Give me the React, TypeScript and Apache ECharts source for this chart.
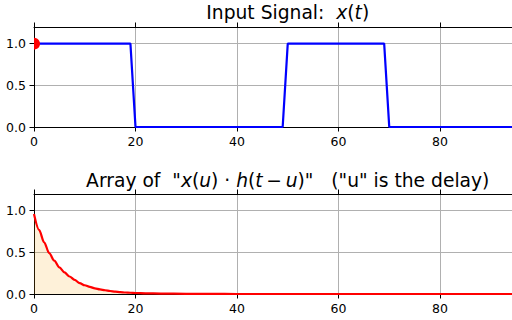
import React, { useEffect, useRef } from "react";
import * as echarts from "echarts";

// Input signal x(t) (corner points of the piecewise-linear trace)
const signalT = [0, 19, 20, 49, 50, 69, 70, 100];
const signalX = [1, 1, 0, 0, 1, 1, 0, 0];
// Marker on the input signal
const markerT = [0];
const markerX = [1];
// Array of x(u)·h(t−u) against delay u
const delayU = [0, 1, 2, 3, 4, 5, 6, 7, 8, 9, 10, 11, 12, 13, 14, 15, 16, 17, 18, 19, 20, 22, 25, 30, 35, 40, 100];
const productVals = [0.96, 0.77, 0.62, 0.49, 0.4, 0.32, 0.26, 0.21, 0.17, 0.13, 0.105, 0.085, 0.068, 0.055, 0.045, 0.036, 0.029, 0.023, 0.018, 0.015, 0.012, 0.008, 0.005, 0.002, 0.001, 0, 0];
// Axis ticks
const xRange = [0, 100];
const xTickLabels = [0, 20, 40, 60, 80];
const yTicks = [0, 0.5, 1.0];

const FONT = "DejaVu Sans";

const grids = [
  { left: 34, top: 27, width: 507.5, height: 100, outerBoundsMode: "none", containLabel: false },
  { left: 34, top: 194, width: 507.5, height: 100, outerBoundsMode: "none", containLabel: false },
];

function bottomX(gridIndex: number) {
  return {
    type: "value",
    gridIndex,
    position: "bottom",
    min: xRange[0],
    max: xRange[1],
    interval: 20,
    axisLine: { show: true, onZero: false, lineStyle: { color: "#000", width: 1 } },
    axisTick: { show: true, inside: false, length: 4.5, lineStyle: { color: "#000", width: 1 } },
    axisLabel: { show: true, color: "#000", fontSize: 12.5, fontFamily: FONT, margin: 8, customValues: xTickLabels },
    splitLine: { show: true, lineStyle: { color: "#b0b0b0", width: 1 } },
  };
}
function topX(gridIndex: number) {
  return {
    type: "value",
    gridIndex,
    position: "top",
    min: xRange[0],
    max: xRange[1],
    interval: 20,
    axisLine: { show: true, onZero: false, lineStyle: { color: "#000", width: 1 } },
    axisTick: { show: true, inside: false, length: 4.5, lineStyle: { color: "#000", width: 1 } },
    axisLabel: { show: false },
    splitLine: { show: false },
  };
}
function leftY(gridIndex: number) {
  return {
    type: "value",
    gridIndex,
    min: 0,
    max: 1.2,
    interval: 0.5,
    axisLine: { show: true, onZero: false, lineStyle: { color: "#000", width: 1 } },
    axisTick: { show: true, inside: false, length: 4.5, lineStyle: { color: "#000", width: 1 }, customValues: yTicks },
    axisLabel: {
      show: true,
      color: "#000",
      fontSize: 12.5,
      fontFamily: FONT,
      margin: 8,
      customValues: yTicks,
      formatter: (v: number) => v.toFixed(1),
    },
    splitLine: { show: true, lineStyle: { color: "#b0b0b0", width: 1 } },
  };
}

export default function App() {
  const ref = useRef<HTMLDivElement>(null);
  useEffect(() => {
    if (!ref.current) return;
    const chart = echarts.init(ref.current, undefined, { renderer: "svg" });
    const FS = 18.7;
    const nStyle = { fontFamily: FONT, fontSize: FS, fill: "#000", color: "#000" };
    const iStyle = { fontFamily: FONT, fontSize: FS, fontStyle: "italic", fill: "#000", color: "#000" };
    chart.setOption({
      animation: false,
      backgroundColor: "#fff",
      grid: grids,
      xAxis: [bottomX(0), topX(0), bottomX(1), topX(1)],
      yAxis: [leftY(0), leftY(1)],
      graphic: [
        {
          type: "text",
          x: 287.75,
          y: 12,
          style: {
            text: "{n|Input Signal:  }{i|x}{n|(}{i|t}{n|)}",
            rich: { n: nStyle, i: iStyle },
            textAlign: "center",
            textVerticalAlign: "middle",
            fontFamily: FONT,
            fontSize: FS,
            fill: "#000",
          },
        },
        {
          type: "text",
          x: 287.75,
          y: 180,
          style: {
            text: '{n|Array of  "}{i|x}{n|(}{i|u}{n|) · }{i|h}{n|(}{i|t}{n|\u2009−\u2009}{i|u}{n|)"   ("u" is the delay)}',
            rich: { n: nStyle, i: iStyle },
            textAlign: "center",
            textVerticalAlign: "middle",
            fontFamily: FONT,
            fontSize: FS,
            fill: "#000",
          },
        },
      ],
      series: [
        {
          type: "line",
          xAxisIndex: 0,
          yAxisIndex: 0,
          data: signalT.map((t, i) => [t, signalX[i]]),
          showSymbol: false,
          symbol: "none",
          lineStyle: { color: "#0000ff", width: 2.2 },
          z: 3,
        },
        {
          type: "custom",
          xAxisIndex: 0,
          yAxisIndex: 0,
          clip: true,
          data: markerT.map((t, i) => [t, markerX[i]]),
          encode: { x: 0, y: 1 },
          renderItem: (params: any, api: any) => {
            const p = api.coord([api.value(0), api.value(1)]);
            return { type: "circle", shape: { cx: p[0], cy: p[1], r: 6 }, style: { fill: "#ff0000" } };
          },
          z: 4,
        },
        {
          type: "line",
          xAxisIndex: 2,
          yAxisIndex: 1,
          data: delayU.map((u, i) => [u, productVals[i]]),
          showSymbol: false,
          symbol: "none",
          smooth: 0.3,
          smoothMonotone: "x",
          lineStyle: { color: "#ff0000", width: 2.2 },
          areaStyle: { color: "rgba(250,165,20,0.23)", origin: "start" },
          z: 3,
        },
      ],
    });
    return () => chart.dispose();
  }, []);
  return (
    <div
      ref={ref}
      style={{ position: "absolute", left: 0, top: 0, width: 512, height: 320 }}
    />
  );
}
